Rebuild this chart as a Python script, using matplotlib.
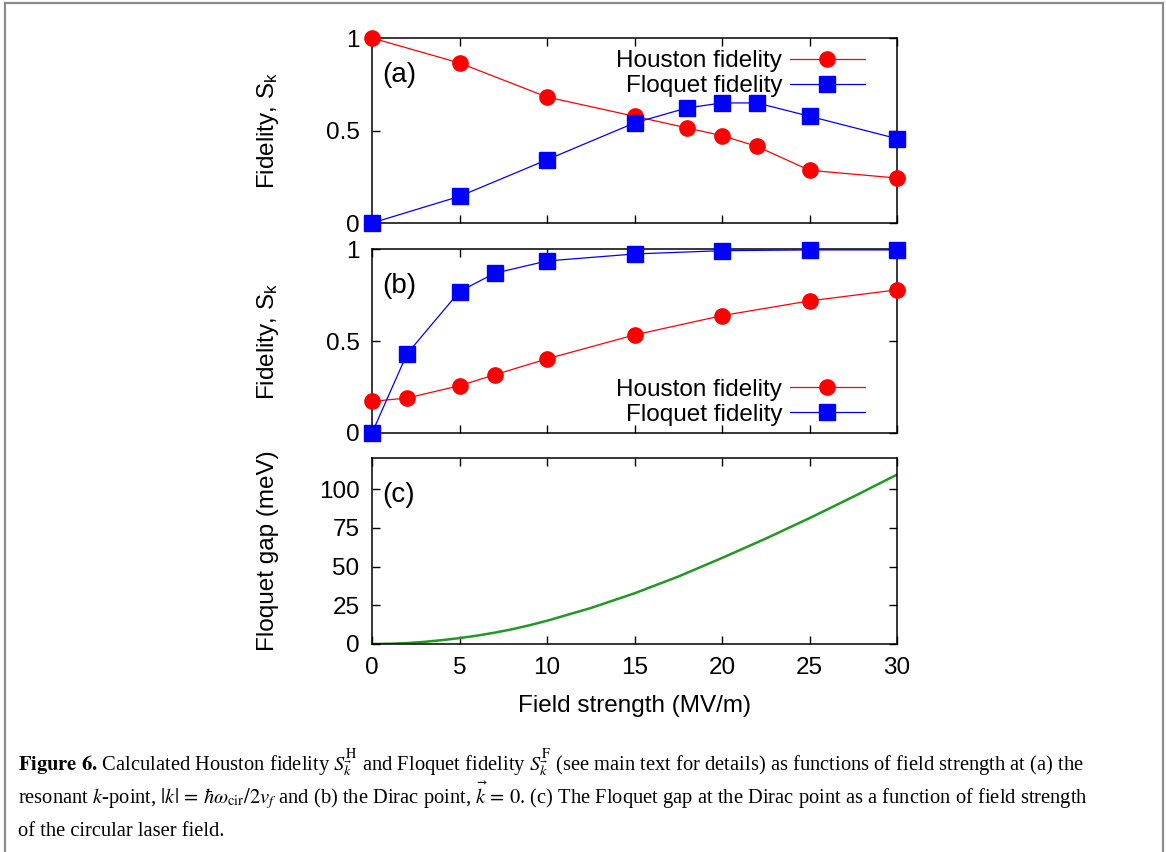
import matplotlib
matplotlib.use("Agg")
import matplotlib.pyplot as plt
from matplotlib.lines import Line2D

# panel (a): resonant k-point
field_a = [0, 5, 10, 15, 18, 20, 22, 25, 30]
houston_a = [1.0, 0.865, 0.681, 0.577, 0.514, 0.472, 0.414, 0.285, 0.243]
floquet_a = [0.0, 0.144, 0.342, 0.541, 0.622, 0.649, 0.649, 0.577, 0.456]

# panel (b): Dirac point
field_b = [0, 2, 5, 7, 10, 15, 20, 25, 30]
houston_b = [0.172, 0.19, 0.257, 0.316, 0.403, 0.533, 0.638, 0.718, 0.778]
floquet_b = [0.0, 0.430, 0.769, 0.868, 0.935, 0.973, 0.991, 0.995, 0.995]

# panel (c): Floquet gap
field_c = [0, 1, 2, 3, 4, 5, 6, 7, 8, 9, 10, 12.5, 15, 17.5, 20, 22.5, 25, 27.5, 30]
gap_c = [0, 0.15, 0.6, 1.4, 2.5, 3.8, 5.4, 7.3, 9.5, 12.1, 15.0,
         23.2, 32.7, 43.5, 55.5, 68.0, 81.2, 95.0, 109.3]

x_ticks = [0, 5, 10, 15, 20, 25, 30]

plt.rcParams['font.family'] = ['Liberation Sans', 'DejaVu Sans']
plt.rcParams['mathtext.fontset'] = 'stix'
FS = 17.5

W, H = 1166, 852
fig = plt.figure(figsize=(W / 100, H / 100), dpi=100)


def axes_px(left, right, top, bottom):
    return fig.add_axes([left / W, 1 - bottom / H, (right - left) / W, (bottom - top) / H])


def style(ax):
    ax.set_xlim(0, 30)
    ax.set_xticks(x_ticks)
    ax.tick_params(direction='in', top=True, right=True, length=6, width=1,
                   labelsize=FS, pad=9)
    for s in ax.spines.values():
        s.set_linewidth(1.1)


def fidelity_panel(ax, x, hou, flo, tag, leg_top):
    ax.plot(x, hou, color='#ff0000', lw=0.9, marker='o', ms=11,
            label='Houston fidelity', clip_on=False, zorder=3)
    ax.plot(x, flo, color='#0000ff', lw=0.9, marker='s', ms=11,
            label='Floquet fidelity', clip_on=False, zorder=4)
    style(ax)
    ax.set_ylim(0, 1)
    ax.set_yticks([0, 0.5, 1])
    ax.set_yticklabels(['0', '0.5', '1'])
    ax.set_xticklabels([])
    ax.set_ylabel(r'Fidelity, S$_\mathregular{k}$', fontsize=FS, va='center')
    ax.yaxis.set_label_coords(-0.198, 0.5)
    ax.text(0.02, 0.80, tag, transform=ax.transAxes, fontsize=20, va='center')
    ax.legend(loc='upper right', bbox_to_anchor=(0.939, leg_top), frameon=False,
              markerfirst=False, fontsize=FS, handlelength=3.1, handletextpad=0.3,
              labelspacing=0.12, borderpad=0, borderaxespad=0, numpoints=1)


ax_a = axes_px(372, 897, 38, 223)
fidelity_panel(ax_a, field_a, houston_a, floquet_a, '(a)', 0.934)

ax_b = axes_px(372, 897, 249, 433)
fidelity_panel(ax_b, field_b, houston_b, floquet_b, '(b)', 0.294)

ax_c = axes_px(372, 897, 458, 644)
ax_c.plot(field_c, gap_c, color='#229922', lw=1.8)
style(ax_c)
ax_c.set_ylim(0, 120)
ax_c.set_yticks([0, 25, 50, 75, 100])
ax_c.set_ylabel('Floquet gap (meV)', fontsize=FS, va='center')
ax_c.yaxis.set_label_coords(-0.198, 0.5)
ax_c.set_xlabel('Field strength (MV/m)', fontsize=FS, va='center')
ax_c.xaxis.set_label_coords(0.5, -0.333)
ax_c.text(0.02, 0.80, '(c)', transform=ax_c.transAxes, fontsize=20, va='center')

# caption box border (open at the bottom)
gray = '#8c8c8c'
for xs, ys in [([5 / W, 5 / W], [0, 1 - 3 / H]),
               ([5 / W, 1163 / W], [1 - 3 / H, 1 - 3 / H]),
               ([1163 / W, 1163 / W], [1 - 3 / H, 0])]:
    fig.add_artist(Line2D(xs, ys, transform=fig.transFigure, color=gray, lw=1.6))

cap_lines = [
    r"$\mathbf{Figure\ 6.}\,$Calculated Houston fidelity $S_{\vec{k}}^{\mathrm{H}}$ and Floquet "
    r"fidelity $S_{\vec{k}}^{\mathrm{F}}$ (see main text for details) as functions of field "
    r"strength at (a) the",
    r"resonant $k$-point, $|k|\,=\,\hbar\omega_{\mathrm{cir}}/2v_f$ and (b) the Dirac point, "
    r"$\vec{k}\,=\,0$. (c) The Floquet gap at the Dirac point as a function of field strength",
    "of the circular laser field.",
]
for i, line in enumerate(cap_lines):
    fig.text(18 / W, 1 - (771 + 32.5 * i) / H, line, family='Liberation Serif',
             fontsize=14.8, ha='left', va='baseline')

fig.savefig('out.png', dpi=100)
